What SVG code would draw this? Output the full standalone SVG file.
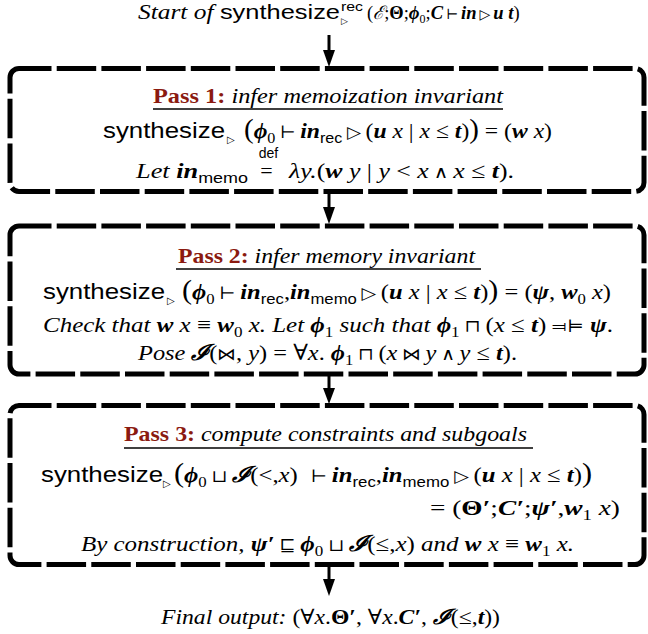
<svg xmlns="http://www.w3.org/2000/svg" width="648" height="634" viewBox="0 0 648 634">
<style>
.t{font-family:"Liberation Serif","DejaVu Serif",serif;font-size:22px;fill:#000}
.top{font-size:21px}
.it{font-style:italic}
.b{font-weight:bold;font-style:normal}
.bi{font-weight:bold;font-style:italic}
.sf{font-family:"Liberation Sans",Arial,sans-serif;font-style:normal;font-weight:normal}
.op{font-size:17px;font-style:normal;font-weight:normal}
.sub{font-size:15px;font-style:normal;font-weight:normal}
.sfs{font-family:"Liberation Sans",Arial,sans-serif;font-size:15px;font-style:normal;font-weight:normal}
.bp{font-size:27px;font-style:normal;font-weight:normal}
.red{fill:#8b1a10;font-weight:bold;font-style:normal}
.tri{font-family:"DejaVu Sans",sans-serif;font-size:10px;fill:#000}
.sc{font-family:"Liberation Sans",Arial,sans-serif;font-size:13px;fill:#000}
.box{fill:none;stroke:#000;stroke-width:5;stroke-dasharray:39.5 5.2}
.ul{stroke:#000;stroke-width:1.3}
.arr{stroke:#000;stroke-width:3}
</style>

<g id="start">
<text class="t top" x="138" y="19" textLength="202" lengthAdjust="spacingAndGlyphs"><tspan class="it">Start of </tspan><tspan class="sf">synthesize</tspan></text>
<text class="sc" x="341" y="11" textLength="22" lengthAdjust="spacingAndGlyphs">rec</text>
<text class="tri" x="341" y="24" style="font-size:9px">▷</text>
<text class="t" x="367" y="19" style="font-size:18.5px">(<tspan class="it">ℰ</tspan>;<tspan class="b">Θ</tspan>;<tspan class="bi">ϕ</tspan><tspan class="sub" style="font-size:12px" dy="4">0</tspan><tspan dy="-4">;</tspan><tspan class="bi">C</tspan><tspan class="op" style="font-size:14px" dx="3">⊢</tspan><tspan class="bi" dx="3">in</tspan><tspan class="op" style="font-size:14px" dx="3">▷</tspan><tspan class="bi" dx="3">u</tspan> <tspan class="bi">t</tspan>)</text>
</g>

<g id="pass1">
<rect class="box" x="10" y="68.5" width="634" height="123" rx="9" stroke-dashoffset="7"/>
<text class="t" x="153" y="103" textLength="350" lengthAdjust="spacingAndGlyphs"><tspan class="red">Pass 1:</tspan><tspan class="it"> infer memoization invariant</tspan></text>
<line class="ul" x1="153" y1="109" x2="503" y2="109"/>
<text class="t sf" x="103" y="138" textLength="122" lengthAdjust="spacingAndGlyphs">synthesize</text>
<text class="tri" x="227" y="143">▷</text>
<text class="t" x="244" y="138" textLength="308" lengthAdjust="spacingAndGlyphs"><tspan class="bp">(</tspan><tspan class="bi">ϕ</tspan><tspan class="sub" dy="5">0</tspan><tspan class="op" dy="-5"> ⊢ </tspan><tspan class="bi">in</tspan><tspan class="sfs" dy="5">rec</tspan><tspan class="op" dy="-5"> ▷ </tspan>(<tspan class="bi">u</tspan><tspan class="it"> x </tspan>| <tspan class="it">x</tspan> ≤ <tspan class="bi">t</tspan>)<tspan class="bp">)</tspan> = (<tspan class="bi">w</tspan><tspan class="it"> x</tspan>)</text>
<text class="t" x="136" y="178" textLength="112" lengthAdjust="spacingAndGlyphs"><tspan class="it">Let </tspan><tspan class="bi">in</tspan><tspan class="sfs" dy="5">memo</tspan></text>
<text class="sc" x="268.5" y="158" text-anchor="middle" style="font-size:14px">def</text>
<text class="t" x="266.5" y="178" text-anchor="middle">=</text>
<text class="t" x="289" y="178" textLength="225" lengthAdjust="spacingAndGlyphs"><tspan class="it">λy.</tspan>(<tspan class="bi">w</tspan><tspan class="it"> y </tspan>| <tspan class="it">y</tspan> &lt; <tspan class="it">x</tspan><tspan class="op"> ∧ </tspan><tspan class="it">x</tspan> ≤ <tspan class="bi">t</tspan>).</text>
</g>

<g id="pass2">
<rect class="box" x="10" y="226" width="634" height="148" rx="9" stroke-dashoffset="7"/>
<text class="t" x="178" y="263" textLength="297" lengthAdjust="spacingAndGlyphs"><tspan class="red">Pass 2:</tspan><tspan class="it"> infer memory invariant</tspan></text>
<line class="ul" x1="176" y1="269" x2="481" y2="269"/>
<text class="t sf" x="43" y="299" textLength="122" lengthAdjust="spacingAndGlyphs">synthesize</text>
<text class="tri" x="167" y="304">▷</text>
<text class="t" x="182" y="299" textLength="429" lengthAdjust="spacingAndGlyphs"><tspan class="bp">(</tspan><tspan class="bi">ϕ</tspan><tspan class="sub" dy="5">0</tspan><tspan class="op" dy="-5"> ⊢ </tspan><tspan class="bi">in</tspan><tspan class="sfs" dy="5">rec</tspan><tspan dy="-5">,</tspan><tspan class="bi">in</tspan><tspan class="sfs" dy="5">memo</tspan><tspan class="op" dy="-5"> ▷ </tspan>(<tspan class="bi">u</tspan><tspan class="it"> x </tspan>| <tspan class="it">x</tspan> ≤ <tspan class="bi">t</tspan>)<tspan class="bp">)</tspan> = (<tspan class="bi">ψ</tspan>, <tspan class="bi">w</tspan><tspan class="sub" dy="5">0</tspan><tspan class="it" dy="-5"> x</tspan>)</text>
<text class="t" x="43" y="332" textLength="570" lengthAdjust="spacingAndGlyphs"><tspan class="it">Check that </tspan><tspan class="bi">w</tspan><tspan class="it"> x </tspan>≡ <tspan class="bi">w</tspan><tspan class="sub" dy="5">0</tspan><tspan class="it" dy="-5"> x. Let </tspan><tspan class="bi">ϕ</tspan><tspan class="sub" dy="5">1</tspan><tspan class="it" dy="-5"> such that </tspan><tspan class="bi">ϕ</tspan><tspan class="sub" dy="5">1</tspan><tspan class="op" dy="-5"> ⊓ </tspan>(<tspan class="it">x</tspan> ≤ <tspan class="bi">t</tspan>) <tspan class="op">⫤⊨</tspan> <tspan class="bi">ψ</tspan>.</text>
<text class="t" x="138" y="360" textLength="379" lengthAdjust="spacingAndGlyphs"><tspan class="it">Pose </tspan><tspan class="bi">ℐ</tspan>(<tspan class="op">⋈</tspan>, <tspan class="it">y</tspan>) = ∀<tspan class="it">x</tspan>. <tspan class="bi">ϕ</tspan><tspan class="sub" dy="5">1</tspan><tspan class="op" dy="-5"> ⊓ </tspan>(<tspan class="it">x</tspan><tspan class="op"> ⋈ </tspan><tspan class="it">y</tspan><tspan class="op"> ∧ </tspan><tspan class="it">y</tspan> ≤ <tspan class="bi">t</tspan>).</text>
</g>

<g id="pass3">
<rect class="box" x="10" y="405.5" width="634" height="159" rx="9" stroke-dashoffset="7"/>
<text class="t" x="124" y="441" textLength="403" lengthAdjust="spacingAndGlyphs"><tspan class="red">Pass 3:</tspan><tspan class="it"> compute constraints and subgoals</tspan></text>
<line class="ul" x1="124" y1="448" x2="533" y2="448"/>
<text class="t sf" x="41" y="482" textLength="122" lengthAdjust="spacingAndGlyphs">synthesize</text>
<text class="tri" x="163" y="487">▷</text>
<text class="t" x="174" y="482" textLength="418" lengthAdjust="spacingAndGlyphs"><tspan class="bp">(</tspan><tspan class="bi">ϕ</tspan><tspan class="sub" dy="5">0</tspan><tspan class="op" dy="-5"> ⊔ </tspan><tspan class="bi">ℐ</tspan>(&lt;,<tspan class="it">x</tspan>) <tspan class="op" dx="6">⊢ </tspan><tspan class="bi">in</tspan><tspan class="sfs" dy="5">rec</tspan><tspan dy="-5">,</tspan><tspan class="bi">in</tspan><tspan class="sfs" dy="5">memo</tspan><tspan class="op" dy="-5"> ▷ </tspan>(<tspan class="bi">u</tspan><tspan class="it"> x </tspan>| <tspan class="it">x</tspan> ≤ <tspan class="bi">t</tspan>)<tspan class="bp">)</tspan></text>
<text class="t" x="430" y="515" textLength="190" lengthAdjust="spacingAndGlyphs">= (<tspan class="b">Θ′</tspan>;<tspan class="bi">C′</tspan>;<tspan class="bi">ψ′</tspan>,<tspan class="bi">w</tspan><tspan class="sub" dy="5">1</tspan><tspan class="it" dy="-5"> x</tspan>)</text>
<text class="t" x="81" y="551" textLength="493" lengthAdjust="spacingAndGlyphs"><tspan class="it">By construction, </tspan><tspan class="bi">ψ′</tspan><tspan class="op"> ⊑ </tspan><tspan class="bi">ϕ</tspan><tspan class="sub" dy="5">0</tspan><tspan class="op" dy="-5"> ⊔ </tspan><tspan class="bi">ℐ</tspan>(≤,<tspan class="it">x</tspan>)<tspan class="it"> and </tspan><tspan class="bi">w</tspan><tspan class="it"> x </tspan>≡ <tspan class="bi">w</tspan><tspan class="sub" dy="5">1</tspan><tspan class="it" dy="-5"> x.</tspan></text>
</g>

<g id="final">
<text class="t top" x="161" y="624" textLength="339" lengthAdjust="spacingAndGlyphs"><tspan class="it">Final output: </tspan>(∀<tspan class="it">x</tspan>.<tspan class="b">Θ′</tspan>, ∀<tspan class="it">x</tspan>.<tspan class="bi">C′</tspan>, <tspan class="bi">ℐ</tspan>(≤,<tspan class="bi">t</tspan>))</text>
</g>

<g id="connectors">
<line class="arr" x1="329" y1="35" x2="329" y2="52"/>
<polygon points="323,50 335,50 329,67"/>
<line class="arr" x1="329" y1="194" x2="329" y2="209"/>
<polygon points="323,207 335,207 329,224"/>
<line class="arr" x1="329" y1="376" x2="329" y2="390"/>
<polygon points="323,388 335,388 329,404"/>
<line class="arr" x1="329" y1="567" x2="329" y2="581"/>
<polygon points="323,579 335,579 329,596"/>
</g>
</svg>
